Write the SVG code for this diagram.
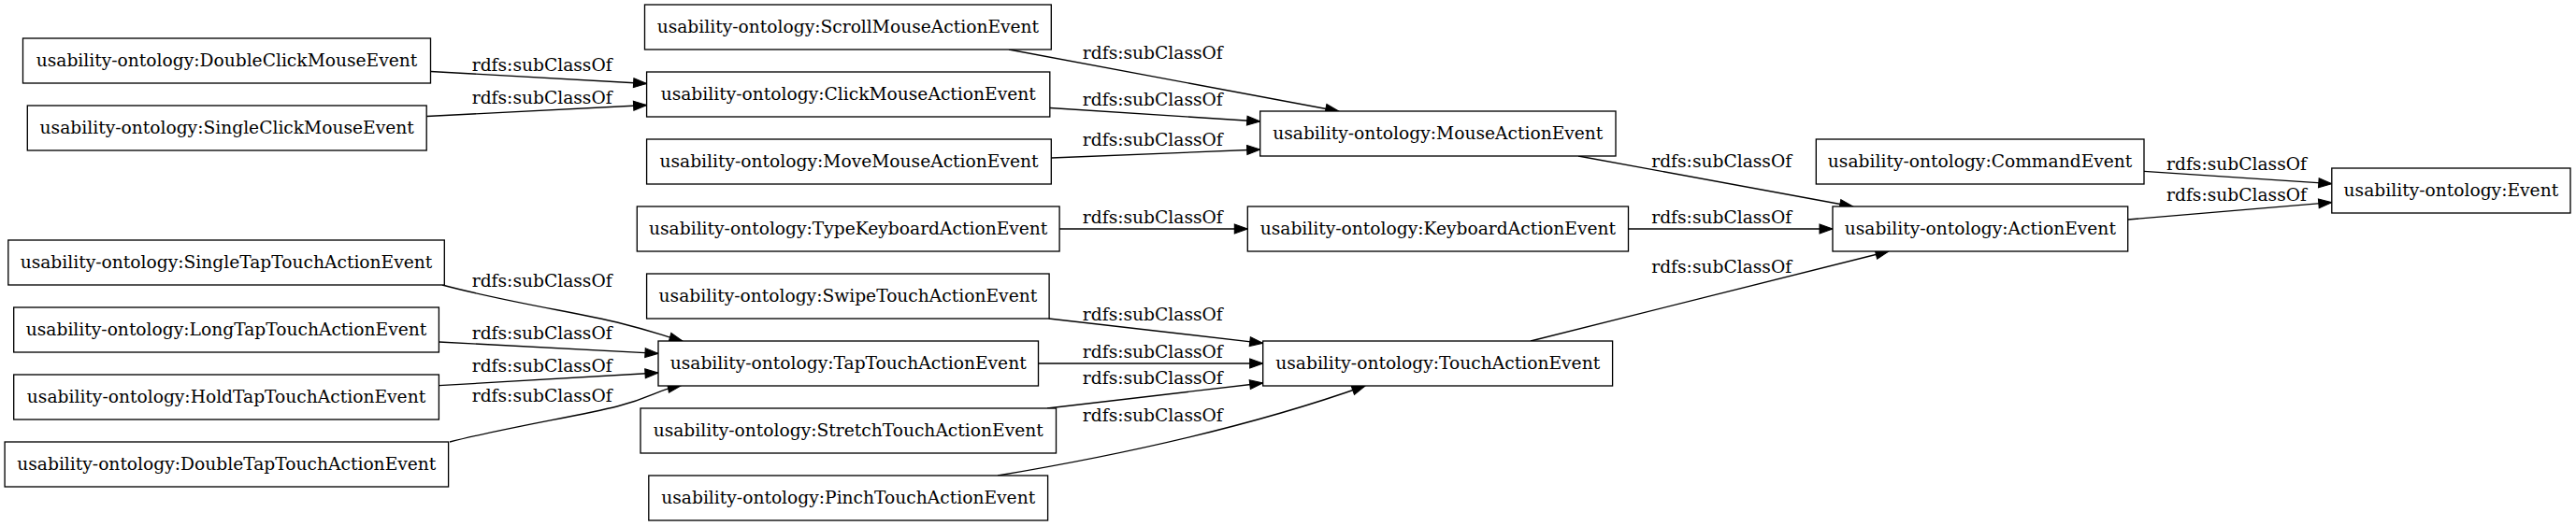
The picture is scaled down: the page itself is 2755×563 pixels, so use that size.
<svg xmlns="http://www.w3.org/2000/svg" width="2755" height="563" viewBox="0 0 2755 563">
<style>
.n rect{fill:#fff;stroke:#000;stroke-width:1.33}
.n text{font-family:"DejaVu Serif",serif;font-size:18.67px;text-anchor:middle;fill:#000}
#edges path{fill:none;stroke:#000;stroke-width:1.33;marker-end:url(#arr)}
#edges text{font-family:"DejaVu Serif",serif;font-size:18.67px;text-anchor:middle;fill:#000}
</style>
<defs>
<marker id="arr" markerUnits="userSpaceOnUse" markerWidth="14" markerHeight="10" viewBox="0 0 13.3 9.4" refX="13.3" refY="4.7" orient="auto" overflow="visible">
<path d="M0,0 L13.3,4.7 L0,9.4 z" fill="#000" stroke="#000" stroke-width="1"/>
</marker>
</defs>
<rect width="2755" height="563" fill="#fff"/>
<g id="edges">
<g><path d="M460.5,76.5 L691.6,89.5"/><text x="579.7" y="76">rdfs:subClassOf</text></g>
<g><path d="M456.2,124.5 L691.6,112.5"/><text x="579.7" y="111">rdfs:subClassOf</text></g>
<g><path d="M1079,53 L1431.7,119"/><text x="1232.8" y="63.3">rdfs:subClassOf</text></g>
<g><path d="M1122.8,115.5 L1347.7,130"/><text x="1232.8" y="113.3">rdfs:subClassOf</text></g>
<g><path d="M1124.3,169 L1347.7,160"/><text x="1232.8" y="155.7">rdfs:subClassOf</text></g>
<g><path d="M1133.1,245 L1334.3,245"/><text x="1232.8" y="239.3">rdfs:subClassOf</text></g>
<g><path d="M1688,167 L1981.7,221"/><text x="1841.2" y="179.3">rdfs:subClassOf</text></g>
<g><path d="M1741.5,245 L1960,245"/><text x="1841.2" y="239.3">rdfs:subClassOf</text></g>
<g><path d="M1637,365 L2020,269"/><text x="1841.2" y="291.7">rdfs:subClassOf</text></g>
<g><path d="M2293,183.3 L2493.8,196.7"/><text x="2392" y="182">rdfs:subClassOf</text></g>
<g><path d="M2275.7,235 L2493.8,216.7"/><text x="2392" y="215">rdfs:subClassOf</text></g>
<g><path d="M473,305 C540,323 620,335 660,345 S705,358 730,365"/><text x="579.7" y="307.3">rdfs:subClassOf</text></g>
<g><path d="M469.4,366 L704,378.3"/><text x="579.7" y="363.3">rdfs:subClassOf</text></g>
<g><path d="M469.4,412.7 L704,399"/><text x="579.7" y="398.3">rdfs:subClassOf</text></g>
<g><path d="M481,473 C540,458 620,445 660,435 S700,418 728.3,412.7"/><text x="579.7" y="430">rdfs:subClassOf</text></g>
<g><path d="M1121.7,341 L1350.7,367.3"/><text x="1232.8" y="342.7">rdfs:subClassOf</text></g>
<g><path d="M1110.5,389 L1350.7,389"/><text x="1232.8" y="383.3">rdfs:subClassOf</text></g>
<g><path d="M1120,437 L1350.7,410"/><text x="1232.8" y="411">rdfs:subClassOf</text></g>
<g><path d="M1067,509 Q1300,470 1460,413"/><text x="1232.8" y="451">rdfs:subClassOf</text></g>
</g>
<g id="n-ScrollMouseActionEvent" class="n"><rect x="689.5" y="5" width="434.8" height="48"/><text x="906.9" y="35">usability-ontology:ScrollMouseActionEvent</text></g>
<g id="n-DoubleClickMouseEvent" class="n"><rect x="24.5" y="41" width="436" height="48"/><text x="242.5" y="71">usability-ontology:DoubleClickMouseEvent</text></g>
<g id="n-ClickMouseActionEvent" class="n"><rect x="691.6" y="77" width="431.2" height="48"/><text x="907.2" y="107">usability-ontology:ClickMouseActionEvent</text></g>
<g id="n-SingleClickMouseEvent" class="n"><rect x="29.3" y="113" width="426.9" height="48"/><text x="242.7" y="143">usability-ontology:SingleClickMouseEvent</text></g>
<g id="n-MouseActionEvent" class="n"><rect x="1347.7" y="119" width="380.3" height="48"/><text x="1537.8" y="149">usability-ontology:MouseActionEvent</text></g>
<g id="n-MoveMouseActionEvent" class="n"><rect x="691.6" y="149" width="432.7" height="48"/><text x="908" y="179">usability-ontology:MoveMouseActionEvent</text></g>
<g id="n-CommandEvent" class="n"><rect x="1942.3" y="149" width="350.7" height="48"/><text x="2117.6" y="179">usability-ontology:CommandEvent</text></g>
<g id="n-Event" class="n"><rect x="2493.8" y="180" width="255.2" height="48"/><text x="2621.4" y="210">usability-ontology:Event</text></g>
<g id="n-TypeKeyboardActionEvent" class="n"><rect x="681.3" y="221" width="451.8" height="48"/><text x="907.2" y="251">usability-ontology:TypeKeyboardActionEvent</text></g>
<g id="n-KeyboardActionEvent" class="n"><rect x="1334.3" y="221" width="407.2" height="48"/><text x="1537.9" y="251">usability-ontology:KeyboardActionEvent</text></g>
<g id="n-ActionEvent" class="n"><rect x="1960" y="221" width="315.7" height="48"/><text x="2117.8" y="251">usability-ontology:ActionEvent</text></g>
<g id="n-SingleTapTouchActionEvent" class="n"><rect x="8.8" y="257" width="466.5" height="48"/><text x="242" y="287">usability-ontology:SingleTapTouchActionEvent</text></g>
<g id="n-SwipeTouchActionEvent" class="n"><rect x="691.6" y="293" width="430.5" height="48"/><text x="906.9" y="323">usability-ontology:SwipeTouchActionEvent</text></g>
<g id="n-LongTapTouchActionEvent" class="n"><rect x="14.7" y="329" width="454.7" height="48"/><text x="242" y="359">usability-ontology:LongTapTouchActionEvent</text></g>
<g id="n-TapTouchActionEvent" class="n"><rect x="704" y="365" width="406.5" height="48"/><text x="907.2" y="395">usability-ontology:TapTouchActionEvent</text></g>
<g id="n-TouchActionEvent" class="n"><rect x="1350.7" y="365" width="373.9" height="48"/><text x="1537.7" y="395">usability-ontology:TouchActionEvent</text></g>
<g id="n-HoldTapTouchActionEvent" class="n"><rect x="14.7" y="401" width="454.7" height="48"/><text x="242" y="431">usability-ontology:HoldTapTouchActionEvent</text></g>
<g id="n-StretchTouchActionEvent" class="n"><rect x="685" y="437" width="444.5" height="48"/><text x="907.2" y="467">usability-ontology:StretchTouchActionEvent</text></g>
<g id="n-DoubleTapTouchActionEvent" class="n"><rect x="5.1" y="473" width="474.5" height="48"/><text x="242.3" y="503">usability-ontology:DoubleTapTouchActionEvent</text></g>
<g id="n-PinchTouchActionEvent" class="n"><rect x="693.8" y="509" width="426.8" height="48"/><text x="907.2" y="539">usability-ontology:PinchTouchActionEvent</text></g>
</svg>
